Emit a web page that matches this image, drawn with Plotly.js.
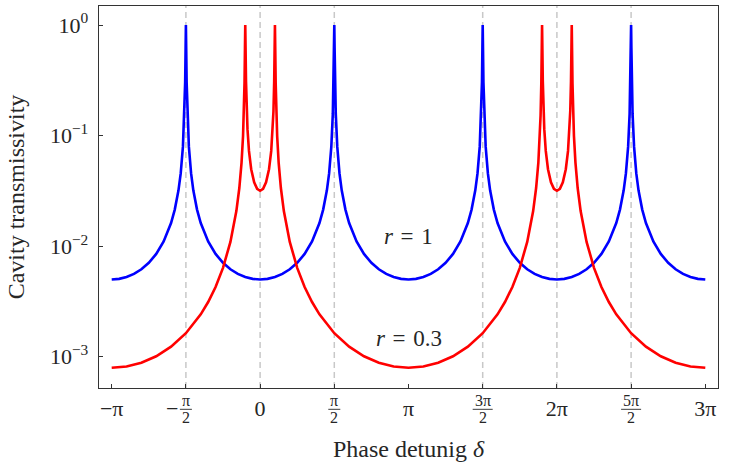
<!DOCTYPE html>
<html>
<head>
<meta charset="utf-8">
<script src="https://cdn.plot.ly/plotly-3.0.1.min.js"></script>
<style>html,body{margin:0;padding:0;background:#fff;}#chart{width:732px;height:465px;}</style>
</head>
<body>
<div id="chart"></div>
<script>
// Phase detuning in units of pi
const blueX = [-1, -0.95, -0.9, -0.85, -0.8, -0.75, -0.7, -0.65, -0.6, -0.575, -0.55, -0.535, -0.52, -0.51, -0.505, -0.502, -0.5, -0.498, -0.495, -0.49, -0.48, -0.465, -0.45, -0.425, -0.4, -0.35, -0.3, -0.25, -0.2, -0.15, -0.1, -0.05, 0,
  0.05, 0.1, 0.15, 0.2, 0.25, 0.3, 0.35, 0.4, 0.425, 0.45, 0.465, 0.48, 0.49, 0.495, 0.498, 0.5, 0.502, 0.505, 0.51, 0.52, 0.535, 0.55, 0.575, 0.6, 0.65, 0.7, 0.75, 0.8, 0.85, 0.9, 0.95, 1,
  1.05, 1.1, 1.15, 1.2, 1.25, 1.3, 1.35, 1.4, 1.425, 1.45, 1.465, 1.48, 1.49, 1.495, 1.498, 1.5, 1.502, 1.505, 1.51, 1.52, 1.535, 1.55, 1.575, 1.6, 1.65, 1.7, 1.75, 1.8, 1.85, 1.9, 1.95, 2,
  2.05, 2.1, 2.15, 2.2, 2.25, 2.3, 2.35, 2.4, 2.425, 2.45, 2.465, 2.48, 2.49, 2.495, 2.498, 2.5, 2.502, 2.505, 2.51, 2.52, 2.535, 2.55, 2.575, 2.6, 2.65, 2.7, 2.75, 2.8, 2.85, 2.9, 2.95, 3];
const blueY = [0.005,
  0.005062, 0.005257, 0.005612, 0.00618, 0.007071, 0.008506, 0.01101, 0.01618, 0.02141, 0.03195, 0.0455, 0.0794, 0.157, 0.303, 0.623, 1, 0.623, 0.303, 0.157, 0.0794, 0.0455, 0.03195, 0.02141, 0.01618, 0.01101, 0.008506, 0.007071, 0.00618, 0.005612, 0.005257, 0.005062, 0.005,
  0.005062, 0.005257, 0.005612, 0.00618, 0.007071, 0.008506, 0.01101, 0.01618, 0.02141, 0.03195, 0.0455, 0.0794, 0.157, 0.303, 0.623, 1, 0.623, 0.303, 0.157, 0.0794, 0.0455, 0.03195, 0.02141, 0.01618, 0.01101, 0.008506, 0.007071, 0.00618, 0.005612, 0.005257, 0.005062, 0.005,
  0.005062, 0.005257, 0.005612, 0.00618, 0.007071, 0.008506, 0.01101, 0.01618, 0.02141, 0.03195, 0.0455, 0.0794, 0.157, 0.303, 0.623, 1, 0.623, 0.303, 0.157, 0.0794, 0.0455, 0.03195, 0.02141, 0.01618, 0.01101, 0.008506, 0.007071, 0.00618, 0.005612, 0.005257, 0.005062, 0.005,
  0.005062, 0.005257, 0.005612, 0.00618, 0.007071, 0.008506, 0.01101, 0.01618, 0.02141, 0.03195, 0.0455, 0.0794, 0.157, 0.303, 0.623, 1, 0.623, 0.303, 0.157, 0.0794, 0.0455, 0.03195, 0.02141, 0.01618, 0.01101, 0.008506, 0.007071, 0.00618, 0.005612, 0.005257, 0.005062, 0.005];

const redX = [-1, -0.9, -0.8, -0.7, -0.6, -0.5, -0.4, -0.35, -0.3, -0.25, -0.2, -0.16, -0.14, -0.125, -0.115, -0.11, -0.105, -0.102, -0.1, -0.098, -0.095, -0.09, -0.085, -0.075, -0.06, -0.04, -0.02,
  0,
  0.02, 0.04, 0.06, 0.075, 0.085, 0.09, 0.095, 0.098, 0.1, 0.102, 0.105, 0.11, 0.115, 0.125, 0.14, 0.16, 0.2, 0.25, 0.3, 0.35, 0.4, 0.5, 0.6, 0.7, 0.8, 0.9, 1,
  1.1, 1.2, 1.3, 1.4, 1.5, 1.6, 1.65, 1.7, 1.75, 1.8, 1.84, 1.86, 1.875, 1.885, 1.89, 1.895, 1.898, 1.9, 1.902, 1.905, 1.91, 1.915, 1.925, 1.94, 1.96, 1.98,
  2,
  2.02, 2.04, 2.06, 2.075, 2.085, 2.09, 2.095, 2.098, 2.1, 2.102, 2.105, 2.11, 2.115, 2.125, 2.14, 2.16, 2.2, 2.25, 2.3, 2.35, 2.4, 2.5, 2.6, 2.7, 2.8, 2.9, 3];
const redY = [0.0007956, 0.0008161, 0.000882, 0.0010087, 0.001232, 0.001632, 0.002418, 0.003123, 0.004273, 0.006363, 0.010928, 0.02076, 0.03356, 0.05702, 0.09892, 0.1508, 0.2981, 0.6209, 1, 0.6291, 0.3116, 0.1658, 0.1143, 0.07265, 0.04965, 0.03778, 0.03303,
  0.0317,
  0.03303, 0.03778, 0.04965, 0.07265, 0.1143, 0.1658, 0.3116, 0.6291, 1, 0.6209, 0.2981, 0.1508, 0.09892, 0.05702, 0.03356, 0.02076, 0.010928, 0.006363, 0.004273, 0.003123, 0.002418, 0.001632, 0.001232, 0.0010087, 0.000882, 0.0008161, 0.0007956,
  0.0008161, 0.000882, 0.0010087, 0.001232, 0.001632, 0.002418, 0.003123, 0.004273, 0.006363, 0.010928, 0.02076, 0.03356, 0.05702, 0.09892, 0.1508, 0.2981, 0.6209, 1, 0.6291, 0.3116, 0.1658, 0.1143, 0.07265, 0.04965, 0.03778, 0.03303,
  0.0317,
  0.03303, 0.03778, 0.04965, 0.07265, 0.1143, 0.1658, 0.3116, 0.6291, 1, 0.6209, 0.2981, 0.1508, 0.09892, 0.05702, 0.03356, 0.02076, 0.010928, 0.006363, 0.004273, 0.003123, 0.002418, 0.001632, 0.001232, 0.0010087, 0.000882, 0.0008161, 0.0007956];

const xTickVals = [-1, 0, 1, 2, 3];
const xTickText = ['−π', '0', 'π', '2π', '3π'];
const fracTickVals = [-0.5, 0.5, 1.5, 2.5];
const fracNumerators = ['π', 'π', '3π', '5π'];
const fracSigns = ['−', '', '', ''];
const fracDenominator = '2';
const yTickVals = [1, 0.1, 0.01, 0.001];
const yTickText = ['10<sup>0</sup>', '10<sup>−1</sup>', '10<sup>−2</sup>', '10<sup>−3</sup>'];
const guideX = [-0.5, 0, 0.5, 1.5, 2, 2.5];
const seriesLabels = ['<i>r</i>\u2004=\u20041', '<i>r</i>\u2004=\u20040.3'];

const FONT = 'Liberation Serif, DejaVu Serif, serif';
const TXT = '#262626';

const traces = [
  {x: blueX, y: blueY, type: 'scatter', mode: 'lines', line: {color: '#0000ff', width: 2.6}, hoverinfo: 'skip'},
  {x: redX, y: redY, type: 'scatter', mode: 'lines', line: {color: '#ff0000', width: 2.6}, hoverinfo: 'skip'}
];

const shapes = guideX.map(v => ({
  type: 'line', xref: 'x', yref: 'paper', x0: v, x1: v, y0: 0, y1: 1, layer: 'below',
  line: {color: '#c8c8c8', width: 1.5, dash: '6px,4px'}
}));

const BAR_Y = -0.0558;
const annotations = [];
fracTickVals.forEach((v, i) => {
  const wide = fracNumerators[i].length > 1;
  shapes.push({type: 'line', xref: 'x', yref: 'paper', xsizemode: 'pixel', xanchor: v,
    x0: wide ? -10 : -6, x1: wide ? 10 : 6, y0: BAR_Y, y1: BAR_Y,
    line: {color: TXT, width: 0.9}});
  annotations.push({xref: 'x', yref: 'paper', x: v, y: BAR_Y, yanchor: 'bottom', showarrow: false,
    text: fracNumerators[i], font: {family: FONT, size: 16, color: TXT}, yshift: -1, borderpad: 0});
  annotations.push({xref: 'x', yref: 'paper', x: v, y: BAR_Y, yanchor: 'top', showarrow: false,
    text: fracDenominator, font: {family: FONT, size: 16, color: TXT}, yshift: 1, borderpad: 0});
  if (fracSigns[i]) {
    annotations.push({xref: 'x', yref: 'paper', x: v, y: BAR_Y, yanchor: 'middle', xanchor: 'right', showarrow: false,
      text: fracSigns[i], font: {family: FONT, size: 22, color: TXT}, xshift: -7, yshift: 1, borderpad: 0});
  }
});
annotations.push({xref: 'x', yref: 'y', x: 1.0, y: -1.914, showarrow: false, text: seriesLabels[0],
  font: {family: FONT, size: 23, color: TXT}});
annotations.push({xref: 'x', yref: 'y', x: 1.0, y: -2.839, showarrow: false, text: seriesLabels[1],
  font: {family: FONT, size: 23, color: TXT}});

const layout = {
  width: 732, height: 465,
  margin: {l: 99, r: 14, t: 6, b: 77},
  paper_bgcolor: '#ffffff', plot_bgcolor: '#ffffff',
  showlegend: false,
  font: {family: FONT, size: 22, color: TXT},
  xaxis: {
    range: [-1.0856, 3.0856], tickmode: 'array', tickvals: xTickVals, ticktext: xTickText,
    ticks: 'inside', ticklen: 4, tickwidth: 1, tickcolor: '#333',
    minor: {tickmode: 'array', tickvals: fracTickVals, ticks: 'inside', ticklen: 4, tickwidth: 1, tickcolor: '#333', showgrid: false},
    showline: true, mirror: true, linecolor: '#333', linewidth: 1.3,
    showgrid: false, zeroline: false,
    tickfont: {family: FONT, size: 22, color: TXT},
    title: {text: 'Phase detunig <i>δ</i>', font: {family: FONT, size: 24, color: TXT}, standoff: 20}
  },
  yaxis: {
    type: 'log', range: [-3.283, 0.172], tickmode: 'array', tickvals: yTickVals, ticktext: yTickText,
    ticks: 'inside', ticklen: 4, tickwidth: 1, tickcolor: '#333',
    showline: true, mirror: true, linecolor: '#333', linewidth: 1.3,
    showgrid: false, zeroline: false, ticklabelstandoff: 5,
    tickfont: {family: FONT, size: 22, color: TXT},
    title: {text: 'Cavity transmissivity', font: {family: FONT, size: 24, color: TXT}, standoff: 18}
  },
  shapes: shapes,
  annotations: annotations
};

Plotly.newPlot('chart', traces, layout, {staticPlot: true, displayModeBar: false});
</script>
</body>
</html>
